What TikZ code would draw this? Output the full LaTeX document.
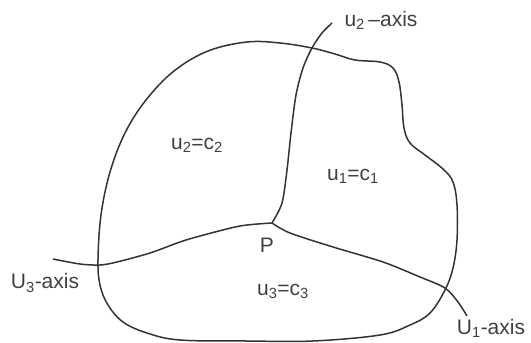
\documentclass[tikz,border=0pt]{standalone}
\usepackage{fontspec}
\setmainfont{Liberation Sans}
\usepackage{tikz}
\usetikzlibrary{positioning}
\tikzset{
  font=\fontsize{21}{24}\selectfont,
  curve/.style ={draw=black!80, line width=1.5pt, line join=round},
  lbl/.style   ={inner sep=0pt, text=black!75},
}

\begin{document}
\begin{tikzpicture}[x=1pt, y=-1pt]
  \useasboundingbox (0,0) rectangle (531,343);
  \coordinate (P)   at (272,223);
  \coordinate (ax2) at (332,23);
  \coordinate (ax3) at (53,259);
  \coordinate (ax1) at (467,316);

  % surface boundary
  \draw[curve] plot[smooth cycle, tension=0.6] coordinates {
    (247,42) (280,43) (312,48) (335,54) (355,60) (380,62) (393,68)
    (399,82) (402,105) (404,128) (410,143) (425,155) (443,169) (453,182)
    (457,205) (457,240) (453,268) (445,290) (430,313) (410,325) (380,335)
    (313,341) (247,341) (180,340) (147,333) (123,322) (108,305) (100,285)
    (98,260) (101,215) (110,172) (125,133) (146,100) (174,71) (208,51)};

  % coordinate curves through P
  \draw[curve] plot[smooth] coordinates {(P) (282,203) (287,170) (291,133)
    (296,95) (303,68) (312,48) (322,33) (ax2)};
  \draw[curve] plot[smooth] coordinates {(ax3) (80,264) (100,265) (117,262)
    (150,253) (180,242) (200,236) (240,226) (P)};
  \draw[curve] plot[smooth] coordinates {(P) (290,233) (333,247) (383,262)
    (420,277) (445,288) (458,302) (ax1)};

  \node[lbl] (lu2) at (381,20)  {u\textsubscript{2}\,--axis};
  \node[lbl] (lu3) at (45,283)  {U\textsubscript{3}-axis};
  \node[lbl] (lu1) at (491,328) {U\textsubscript{1}-axis};
  \node[lbl] (s2)  at (197,145) {u\textsubscript{2}=c\textsubscript{2}};
  \node[lbl] (s1)  at (353,176) {u\textsubscript{1}=c\textsubscript{1}};
  \node[lbl] (s3)  at (283,291) {u\textsubscript{3}=c\textsubscript{3}};
  \node[lbl] (lp)  at (267,245) {P};
\end{tikzpicture}
\end{document}
